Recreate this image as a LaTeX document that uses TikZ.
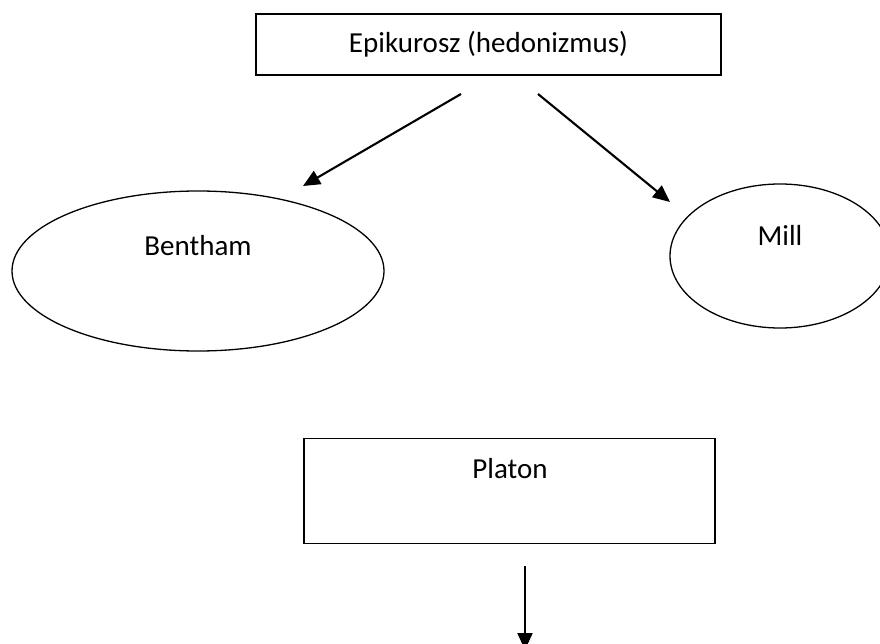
\documentclass[tikz,border=0pt]{standalone}
\usepackage{fontspec}
\setmainfont{Carlito}
\usetikzlibrary{shapes.geometric,arrows.meta}

\begin{document}
\begin{tikzpicture}[x=1pt,y=-1pt,
		box/.style={draw, line width=1.5pt, inner sep=0pt},
		oval/.style={ellipse, draw, line width=1.3pt, inner sep=0pt},
		arr/.style={-{Triangle[length=17pt,width=15pt]}, line width=2.1pt},
		font=\fontsize{29}{34}\selectfont]
		\useasboundingbox (0,0) rectangle (880,644);
		\clip (0,0) rectangle (880,644);

		\draw (488.5,44.5) node[box, minimum width=465pt, minimum height=61pt] (epik) {Epikurosz (hedonizmus)};

		\draw (198,271) node[oval, minimum width=372pt, minimum height=160pt] (bentham) {};
		\draw (198,246) node (benthamtxt) {Bentham};

		\draw (780,256) node[oval, minimum width=220pt, minimum height=144pt] (mill) {};
		\draw (780,235) node (milltxt) {Mill};

		\draw (509.5,491) node[box, minimum width=411pt, minimum height=105pt] (platon) {};
		\draw (510,469) node (platontxt) {Platon};

		% loose arrow ends
		\coordinate (epikL) at (461,94);
		\coordinate (epikR) at (538,94);
		\coordinate (toBentham) at (303,186);
		\coordinate (toMill) at (670,202);
		\coordinate (platonOut) at (525,566);
		\coordinate (below) at (525,650);

		\draw [arr] (epikL) -- (toBentham);
		\draw [arr] (epikR) -- (toMill);
		\draw [arr] (platonOut) -- (below);
	\end{tikzpicture}
\end{document}
